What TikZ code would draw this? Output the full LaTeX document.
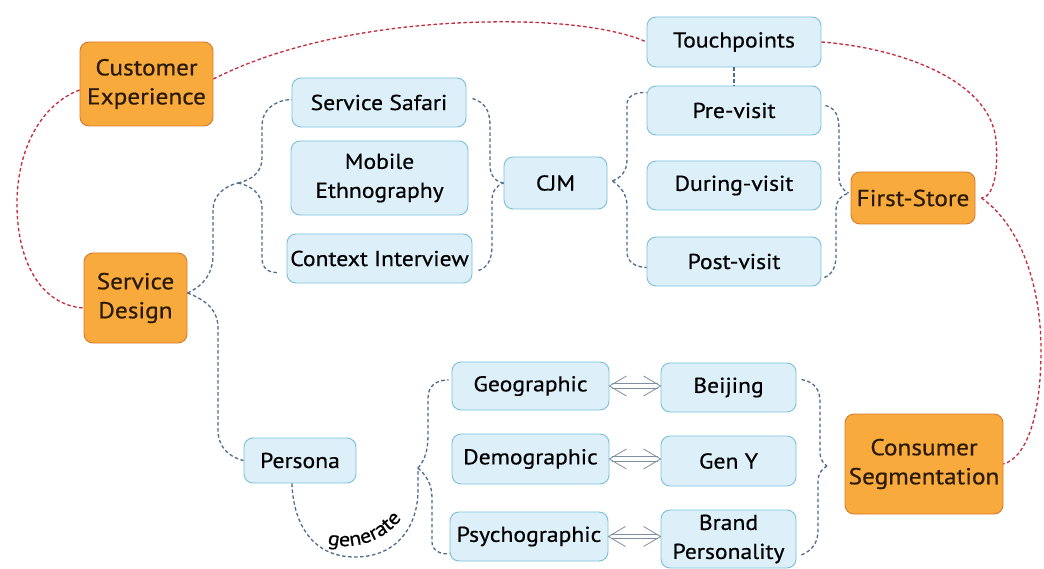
\documentclass[tikz,border=0pt]{standalone}
\usepackage{fontspec}
\setmainfont{PT Sans}[FakeStretch=1.1,FakeBold=0.5]
\usetikzlibrary{decorations.text,calc}
\definecolor{orfill}{HTML}{F8AA3C}
\definecolor{ordraw}{HTML}{D77A2C}
\definecolor{blfill}{HTML}{DDF0FA}
\definecolor{bldraw}{HTML}{7CC0D8}
\definecolor{redl}{HTML}{C42A3C}
\definecolor{bluel}{HTML}{4E6C8C}
\definecolor{arrc}{HTML}{7F8FA2}
\definecolor{ortext}{HTML}{2A1A0A}
\newcommand\genfont{\fontsize{20}{22}\selectfont}
\newcommand\dblarr[2]{%
  \coordinate (dA) at (#1.east);
  \coordinate (dB) at (#2.west |- #1.east);
  \draw[dbl] ($(dA)+(3,-2.3)$) -- ($(dB)+(-3,-2.3)$);
  \draw[dbl] ($(dA)+(3,2.3)$) -- ($(dB)+(-3,2.3)$);
  \draw[dbl] ($(dA)+(17,-10)$) -- (dA) -- ($(dA)+(17,10)$);
  \draw[dbl] ($(dB)+(-17,-10)$) -- (dB) -- ($(dB)+(-17,10)$);
}
\begin{document}
\begin{tikzpicture}[x=1pt,y=-1pt,
  box/.style={draw, rounded corners=9pt, line width=0.9pt, align=center, inner sep=0pt, text=black},
  obox/.style={box, fill=orfill, draw=ordraw, text=ortext, font=\fontsize{23}{29}\selectfont},
  bbox/.style={box, fill=blfill, draw=bldraw, font=\fontsize{21.5}{29}\selectfont},
  sz/.style 2 args={minimum width=#1pt, minimum height=#2pt},
  rdash/.style={draw=redl, line width=1.3pt, dash pattern=on 3.5pt off 2.5pt},
  bdash/.style={draw=bluel, line width=1.3pt, dash pattern=on 3.5pt off 2.5pt},
  dbl/.style={draw=arrc, line width=0.8pt}]
\useasboundingbox[fill=white] (0,0) rectangle (1044,569);

% nodes
\node[obox, sz={133}{84}] (ce) at (146.5,84) {Customer\\Experience};
\node[obox, sz={103}{90}] (sd) at (135.5,298) {Service\\Design};
\node[bbox, sz={174}{50}] (tp) at (734,42) {Touchpoints};
\node[bbox, sz={174}{49}] (ss) at (379,102.5) {Service Safari};
\node[bbox, sz={177}{74}] (me) at (379.5,178) {Mobile\\Ethnography};
\node[bbox, sz={185}{49}] (ci) at (379.5,258.5) {Context Interview};
\node[bbox, sz={103}{52}] (cjm) at (555.5,183) {CJM};
\node[bbox, sz={174}{49}] (pre) at (734,110.5) {Pre-visit};
\node[bbox, sz={174}{49}] (dur) at (734,185.5) {During-visit};
\node[bbox, sz={174}{49}] (post) at (734,261.5) {Post-visit};
\node[obox, sz={124}{52}] (fs) at (913,198) {First-Store};
\node[bbox, sz={112}{45}] (persona) at (300,460.5) {Persona};
\node[bbox, sz={157}{48}] (geo) at (530.5,386) {Geographic};
\node[bbox, sz={157}{50}] (dem) at (530.5,459) {Demographic};
\node[bbox, sz={158}{49}] (psy) at (529,536.5) {Psychographic};
\node[bbox, sz={135}{49}] (bei) at (728.5,387.5) {Beijing};
\node[bbox, sz={135}{50}] (geny) at (728.5,461) {Gen Y};
\node[bbox, sz={135}{58}] (bp) at (728.5,539) {Brand\\Personality};
\node[obox, sz={158}{100}] (cs) at (924,464) {Consumer\\Segmentation};

% red connectors
\draw[rdash] ([yshift=-6pt]ce.west) .. controls (40,105) and (18,150) .. (17,200) .. controls (16,260) and (40,305) .. ([yshift=-10pt]sd.west);
\draw[rdash] ([yshift=5pt]ce.east) .. controls (300,35) and (420,20) .. (520,22) .. controls (580,23) and (625,32) .. (tp.west);
\draw[rdash] (tp.east) .. controls (900,48) and (990,80) .. (996,140) .. controls (999,175) and (992,198) .. ([xshift=6pt]fs.east);
\draw[rdash] ([xshift=6pt]fs.east) .. controls (1020,225) and (1041,285) .. (1041,350) .. controls (1041,420) and (1025,458) .. (cs.east);

% blue braces
\coordinate (t1) at (238,183);
\draw[bdash] ([yshift=5pt]sd.east) .. controls (205,285) and (213,272) .. (213,255) -- (213,210) .. controls (213,195) and (225,186) .. (t1);
\draw[bdash] (t1) .. controls (252,180) and (262,172) .. (262,158) -- (262,125) .. controls (262,110) and (275,100) .. ([yshift=3pt]ss.west);
\draw[bdash] (t1) .. controls (252,186) and (262,194) .. (262,208) -- (262,258) .. controls (262,268) and (268,273) .. ([xshift=-8pt,yshift=-14pt]ci.west);

\draw[bdash] ([xshift=6pt,yshift=4pt]ss.east) .. controls (484,102) and (490,110) .. (490,125) -- (490,165) .. controls (490,176) and (496,182) .. (cjm.west);
\draw[bdash] ([xshift=6pt,yshift=-12pt]ci.east) .. controls (487,268) and (492,260) .. (492,246) -- (492,200) .. controls (492,191) and (497,185) .. (cjm.west);

\coordinate (t3) at ([xshift=5pt,yshift=2pt]cjm.east);
\draw[bdash] (t3) .. controls (620,178) and (627,172) .. (627,160) -- (627,105) .. controls (627,96) and (635,92) .. ([yshift=18pt]pre.west);
\draw[bdash] (t3) .. controls (620,186) and (627,194) .. (627,206) -- (627,252) .. controls (627,262) and (635,267) .. ([yshift=-6pt]post.west);

\coordinate (t4) at ([xshift=-2pt,yshift=5pt]fs.west);
\draw[bdash] ([xshift=4pt,yshift=5pt]pre.east) .. controls (835,108) and (839,115) .. (839,130) -- (839,178) .. controls (839,186) and (844,191) .. (t4);
\draw[bdash] ([xshift=3pt,yshift=-16pt]post.east) .. controls (833,274) and (836,266) .. (836,255) -- (836,210) .. controls (836,200) and (842,195) .. (t4);

\draw[bdash] (tp.south) -- (pre.north);

\draw[bdash] ([yshift=5pt]sd.east) .. controls (206,300) and (218,310) .. (218,328) -- (218,430) .. controls (218,446) and (228,457) .. (persona.west);

\coordinate (t5) at (418,468);
\draw[bdash] ([xshift=-8pt]persona.south) .. controls (293,520) and (310,557) .. (355,557) .. controls (398,557) and (418,525) .. (418,490) -- (t5);
\draw[bdash] (t5) .. controls (425,460) and (428,450) .. (428,435) -- (428,398) .. controls (428,386) and (436,380) .. ([xshift=-3pt,yshift=6pt]geo.west);
\draw[bdash] (t5) .. controls (427,476) and (432,485) .. (432,498) -- (432,542) .. controls (432,550) and (440,555) .. ([yshift=-17pt]psy.west);

\coordinate (t6) at (827,466);
\draw[bdash] ([xshift=5pt,yshift=8pt]bei.east) .. controls (815,382) and (820,390) .. (820,402) -- (820,452) .. controls (820,460) and (824,464) .. (t6);
\draw[bdash] ([xshift=5pt,yshift=-16pt]bp.east) .. controls (813,550) and (818,542) .. (818,530) -- (818,482) .. controls (818,473) and (823,468) .. (t6);

% generate label
\path[decorate, decoration={text along path, text={|\genfont|generate}, text align=center}] (320,542) .. controls (345,551) and (384,547) .. (406,512);

% double arrows
\dblarr{geo}{bei}
\dblarr{dem}{geny}
\dblarr{psy}{bp}
\end{tikzpicture}
\end{document}
